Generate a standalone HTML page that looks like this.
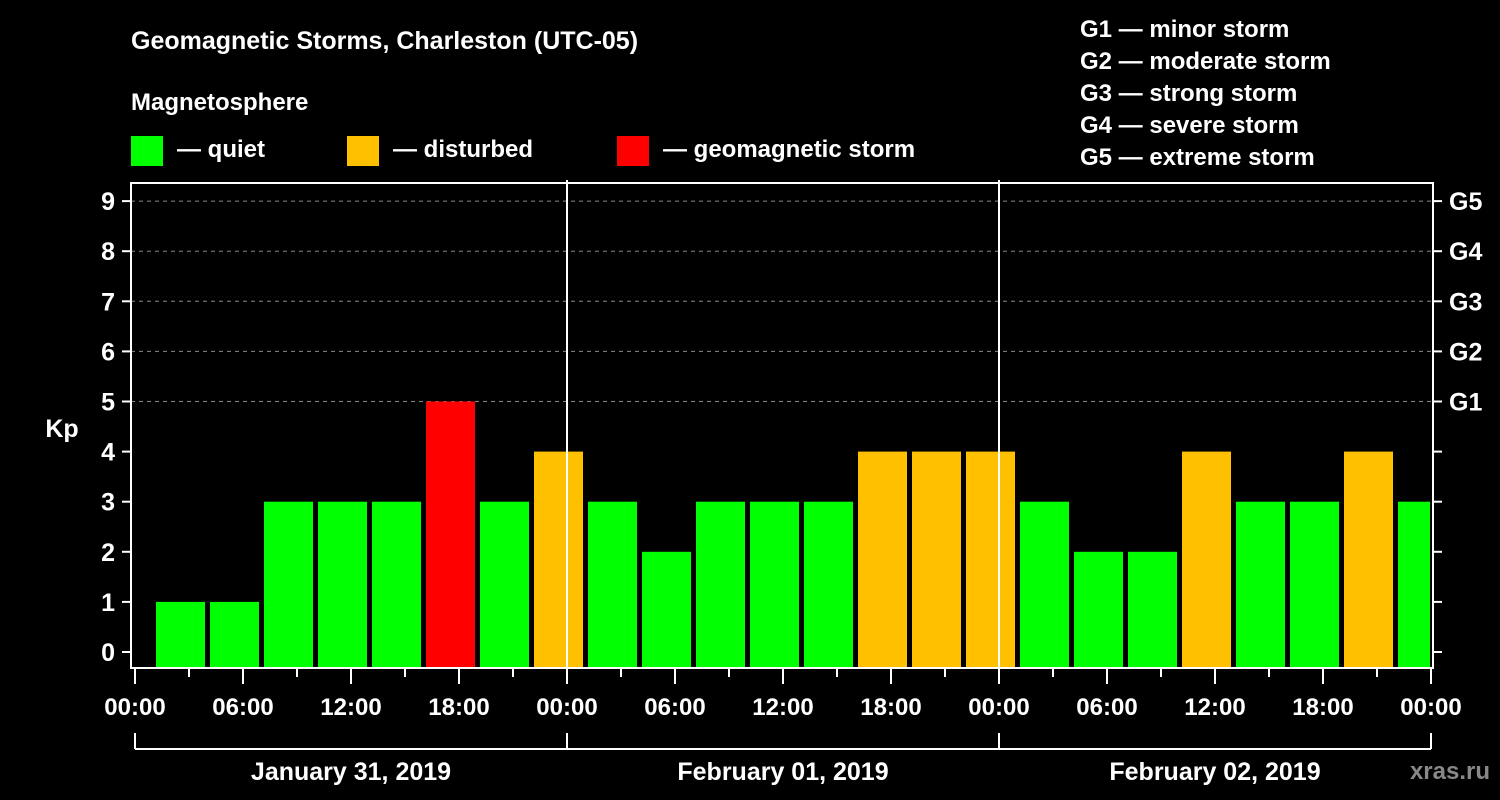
<!DOCTYPE html>
<html><head><meta charset="utf-8"><style>
body{margin:0;background:#000;}
svg{display:block;font-family:"Liberation Sans",Arial,sans-serif;font-weight:bold;}
</style></head><body>
<svg id="c" width="1500" height="800" viewBox="0 0 1500 800">
<rect width="1500" height="800" fill="#000"/>
<text x="131" y="49" fill="#fff" font-size="25">Geomagnetic Storms, Charleston (UTC-05)</text>
<text x="131" y="110" fill="#fff" font-size="24">Magnetosphere</text>
<g><rect x="131" y="136" width="32" height="30" fill="#00ff00"/><text x="177" y="157" fill="#fff" font-size="24">— quiet</text></g>
<g><rect x="347" y="136" width="32" height="30" fill="#ffc000"/><text x="393" y="157" fill="#fff" font-size="24">— disturbed</text></g>
<g><rect x="617" y="136" width="32" height="30" fill="#ff0000"/><text x="663" y="157" fill="#fff" font-size="24">— geomagnetic storm</text></g>
<g fill="#fff" font-size="24">
<text x="1080" y="37">G1 — minor storm</text>
<text x="1080" y="69">G2 — moderate storm</text>
<text x="1080" y="101">G3 — strong storm</text>
<text x="1080" y="133">G4 — severe storm</text>
<text x="1080" y="165">G5 — extreme storm</text>
</g>
<text x="62" y="437" fill="#fff" font-size="25" text-anchor="middle">Kp</text>
<text x="1490" y="779" fill="#888" font-size="24" text-anchor="end">xras.ru</text>
<g id="plot"></g>
</svg>
<script>
const kpValues=[1,1,3,3,3,5,3,4, 3,2,3,3,3,4,4,4, 3,2,2,4,3,3,4,3];
const dayLabels=["January 31, 2019","February 01, 2019","February 02, 2019"];
const yTicks=[0,1,2,3,4,5,6,7,8,9];
const gLabels=["G1","G2","G3","G4","G5"];
const timeLabels=["00:00","06:00","12:00","18:00"];
const NS="http://www.w3.org/2000/svg";
const g=document.getElementById('plot');
const X0=135,PXH=18,Y0=652,PXK=50.1,TOP=183,BOT=668,LEFT=131,RIGHT=1433;
const xs=h=>X0+h*PXH, ys=v=>Y0-v*PXK;
function mk(t,a){const e=document.createElementNS(NS,t);for(const k in a)e.setAttribute(k,a[k]);g.appendChild(e);return e;}
// grid
for(let v=5;v<=9;v++){const l=mk('line',{x1:LEFT,x2:RIGHT,y1:ys(v),y2:ys(v),stroke:'#888','stroke-width':1,'stroke-dasharray':'4,4'});

}
// bars
kpValues.forEach((v,i)=>{const h0=1+3*i;let x1=xs(h0)+3,x2=Math.min(xs(h0+3)-2,RIGHT-3);
const col=v>=5?'#ff0000':(v>=4?'#ffc000':'#00ff00');
const r=mk('rect',{x:x1,y:ys(v),width:x2-x1,height:BOT-ys(v),fill:col});

});
// day separators
for(let d=1;d<3;d++){const l=mk('line',{x1:xs(24*d),x2:xs(24*d),y1:180,y2:BOT,stroke:'#fff','stroke-width':2});

}
// frame
const f=mk('rect',{x:LEFT,y:TOP,width:RIGHT-LEFT,height:BOT-TOP,fill:'none',stroke:'#fff','stroke-width':2});


// y ticks
yTicks.forEach(v=>{const y=ys(v);
mk('line',{x1:122,x2:LEFT,y1:y,y2:y,stroke:'#fff','stroke-width':2});
mk('line',{x1:RIGHT,x2:1442,y1:y,y2:y,stroke:'#fff','stroke-width':2});
const t=mk('text',{x:115,y:y+9,fill:'#fff','font-size':25,'text-anchor':'end'});t.textContent=v;

});
gLabels.forEach((s,i)=>{const t=mk('text',{x:1449,y:ys(5+i)+9,fill:'#fff','font-size':25});t.textContent=s;

});
// x ticks
for(let h=0;h<=72;h+=3){const x=xs(h);const major=h%6===0;
mk('line',{x1:x,x2:x,y1:BOT,y2:major?684:677,stroke:'#fff','stroke-width':2});
if(major){const t=mk('text',{x:x,y:715,fill:'#fff','font-size':24,'text-anchor':'middle'});t.textContent=timeLabels[(h%24)/6];

}}
// day brackets
mk('line',{x1:xs(0),x2:xs(72),y1:749,y2:749,stroke:'#fff','stroke-width':2});
for(let d=0;d<=3;d++)mk('line',{x1:xs(24*d),x2:xs(24*d),y1:733,y2:749,stroke:'#fff','stroke-width':2});
dayLabels.forEach((s,d)=>{const t=mk('text',{x:xs(24*d+12),y:780,fill:'#fff','font-size':25,'text-anchor':'middle'});t.textContent=s;

});
</script>
</body></html>
